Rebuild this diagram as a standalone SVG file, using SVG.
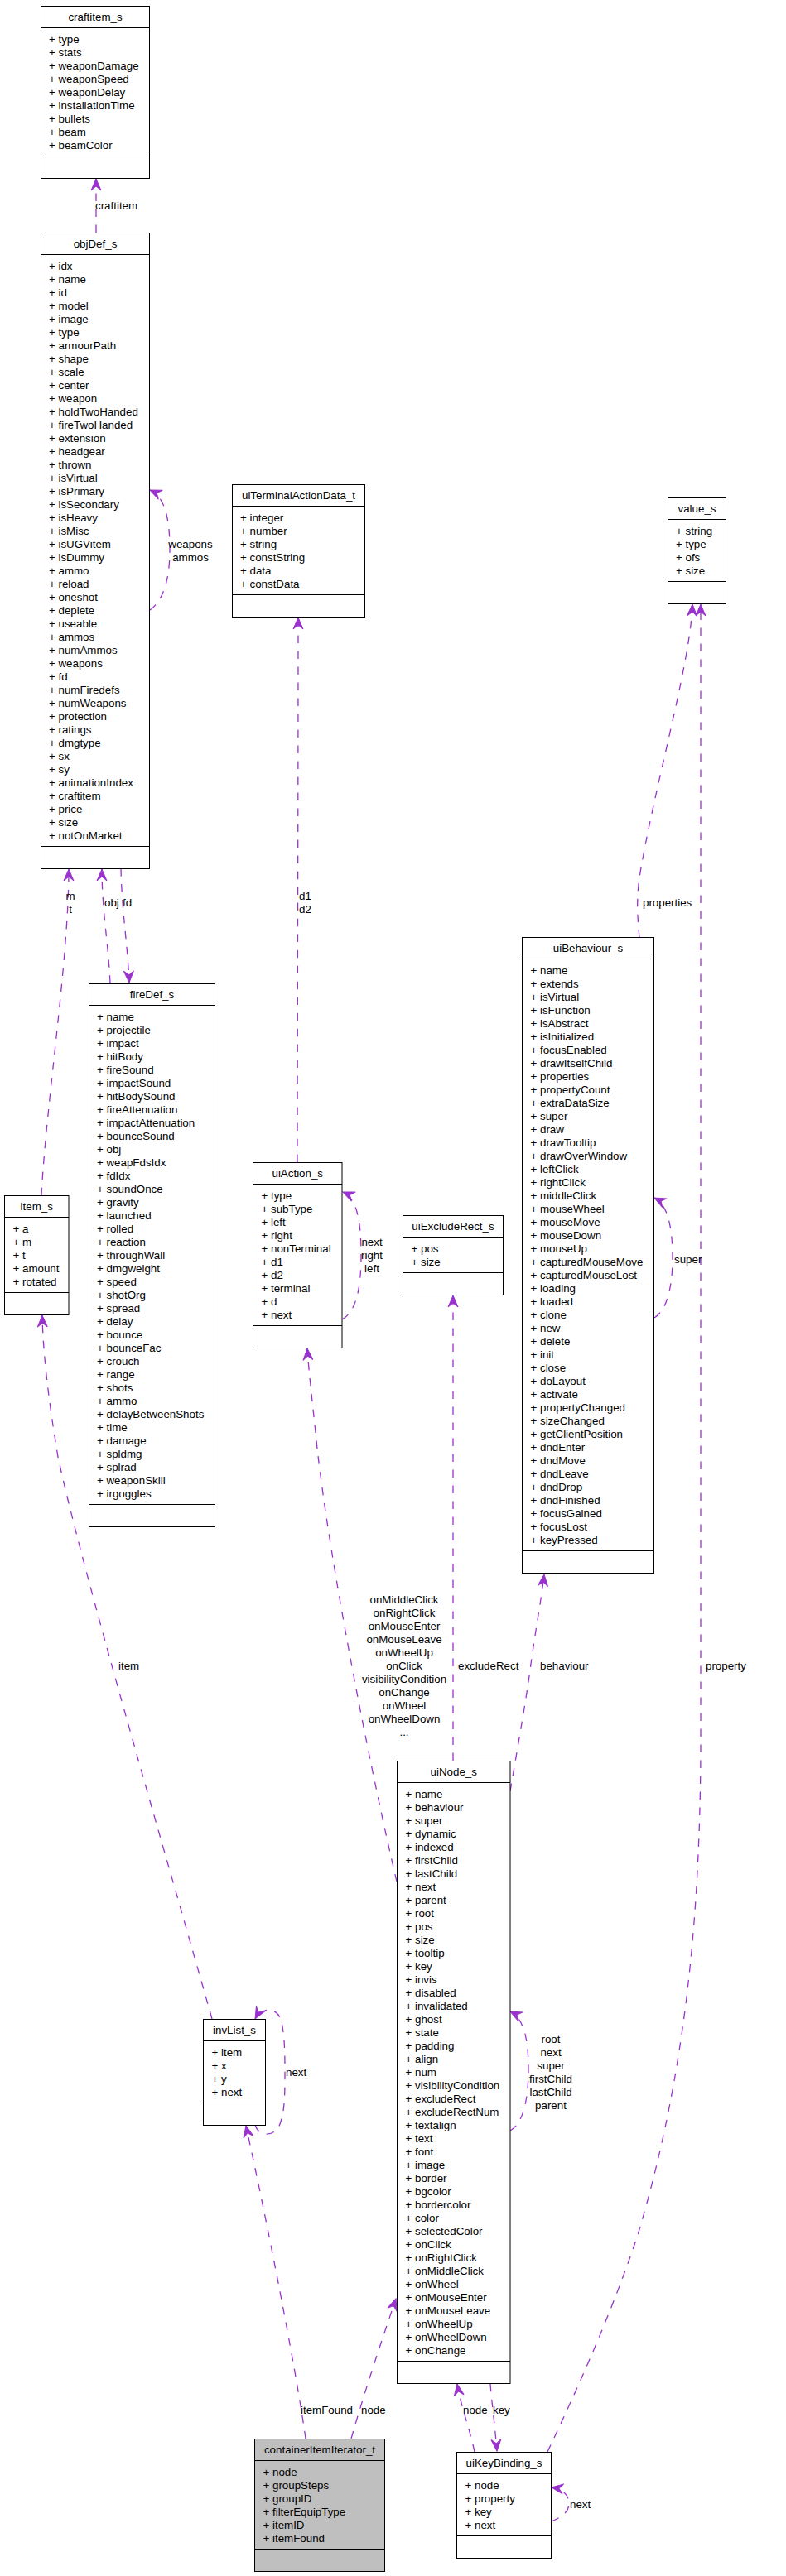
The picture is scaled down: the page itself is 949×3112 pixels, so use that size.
<svg xmlns="http://www.w3.org/2000/svg" width="949" height="3112" viewBox="0 0 949 3112">
<style>
.bx{fill:#ffffff;stroke:#000000;stroke-width:1}
.gr{fill:#bfbfbf;stroke:#000000;stroke-width:1}
.sp{stroke:#000000;stroke-width:1}
text{font-family:"Liberation Sans",Arial,sans-serif;font-size:13.33px;fill:#000000}
.t{text-anchor:middle}
.m{text-anchor:middle}
.e{fill:none;stroke:#9a32cd;stroke-width:1.3;stroke-dasharray:9.5,9.5;marker-end:url(#arr)}
.ah{fill:#9a32cd;stroke:#9a32cd;stroke-width:1;stroke-dasharray:none}
</style>
<defs>
<marker id="arr" markerUnits="userSpaceOnUse" markerWidth="16" markerHeight="14" viewBox="0 0 16 14" refX="15" refY="7" orient="auto"><path class="ah" d="M1,1 L15,7 L1,13 L6,7 Z"/></marker>
</defs>
<rect x="0" y="0" width="949" height="3112" fill="#ffffff"/>

<g id="edges">
<path class="e" d="M116,281 L116,216"/>
<path class="e" d="M181,737 C197,726 205,700 205,664 C205,626 199,600 181,592"/>
<path class="e" d="M50,1444 C56,1330 83,1160 83,1050"/>
<path class="e" d="M133,1188 C131,1140 123,1100 123,1050"/>
<path class="e" d="M146,1049 C147,1100 154,1140 156,1187"/>
<path class="e" d="M256,2439 C200,2240 100,1900 70,1760 C60,1700 52,1640 51,1589"/>
<path class="e" d="M359,1404 C359,1300 360,1000 360,746"/>
<path class="e" d="M413,1594 C429,1585 436,1560 436,1516 C436,1472 430,1447 414,1440"/>
<path class="e" d="M479,2273 C450,2150 400,1900 383,1750 C378,1700 373,1660 371,1629"/>
<path class="e" d="M547,2127 L547,1565"/>
<path class="e" d="M616,2164 C625,2110 636,2050 641,2010 C648,1960 654,1930 657,1902"/>
<path class="e" d="M772,1133 C770,1110 768,1090 772,1060 C790,950 834,800 836,730"/>
<path class="e" d="M661,2962 C700,2880 740,2790 770,2700 C830,2500 846,2300 846,2100 L846,730"/>
<path class="e" d="M790,1592 C805,1583 812,1555 812,1520 C812,1482 806,1455 790,1447"/>
<path class="e" d="M616,2574 C632,2565 638,2535 638,2500 C638,2462 632,2438 616,2430"/>
<path class="e" d="M308,2567 C312,2582 332,2582 338,2566 C344,2550 344,2530 344,2500 C344,2465 342,2442 336,2434 C328,2424 314,2428 308,2439"/>
<path class="e" d="M369,2946 C360,2880 330,2720 297,2568"/>
<path class="e" d="M424,2946 C440,2890 460,2830 478,2777"/>
<path class="e" d="M573,2962 C566,2930 556,2905 552,2880"/>
<path class="e" d="M592,2880 C594,2905 598,2935 600,2961"/>
<path class="e" d="M666,3046 C680,3040 687,3033 687,3025 C687,3015 681,3007 666,3005"/>
<text x="115" y="252.7">craftitem</text>
<text class="m" x="230" y="661.7">weapons</text>
<text class="m" x="230" y="677.7">ammos</text>
<text class="m" x="85" y="1086.7">m</text>
<text class="m" x="85" y="1102.7">t</text>
<text x="126" y="1094.7">obj</text>
<text x="148" y="1094.7">fd</text>
<text x="361" y="1086.7">d1</text>
<text x="361" y="1102.7">d2</text>
<text x="776" y="1094.7">properties</text>
<text class="m" x="449" y="1504.7">next</text>
<text class="m" x="449" y="1520.7">right</text>
<text class="m" x="449" y="1536.7">left</text>
<text x="814" y="1525.7">super</text>
<text class="m" x="488" y="1936.7">onMiddleClick</text>
<text class="m" x="488" y="1952.7">onRightClick</text>
<text class="m" x="488" y="1968.7">onMouseEnter</text>
<text class="m" x="488" y="1984.7">onMouseLeave</text>
<text class="m" x="488" y="2000.7">onWheelUp</text>
<text class="m" x="488" y="2016.7">onClick</text>
<text class="m" x="488" y="2032.7">visibilityCondition</text>
<text class="m" x="488" y="2048.7">onChange</text>
<text class="m" x="488" y="2064.7">onWheel</text>
<text class="m" x="488" y="2080.7">onWheelDown</text>
<text class="m" x="488" y="2096.7">...</text>
<text x="143" y="2016.7">item</text>
<text x="553" y="2016.7">excludeRect</text>
<text x="652" y="2016.7">behaviour</text>
<text x="852" y="2016.7">property</text>
<text class="m" x="665" y="2467.7">root</text>
<text class="m" x="665" y="2483.7">next</text>
<text class="m" x="665" y="2499.7">super</text>
<text class="m" x="665" y="2515.7">firstChild</text>
<text class="m" x="665" y="2531.7">lastChild</text>
<text class="m" x="665" y="2547.7">parent</text>
<text x="345" y="2507.7">next</text>
<text x="363" y="2916.4">itemFound</text>
<text x="436" y="2916.4">node</text>
<text x="559" y="2916.4">node</text>
<text x="595" y="2916.4">key</text>
<text x="688" y="3029.7">next</text>
</g>

<g id="craftitem_s">
<rect class="bx" x="49.5" y="7.5" width="131" height="208"/>
<line class="sp" x1="49.5" y1="33.5" x2="180.5" y2="33.5"/>
<line class="sp" x1="49.5" y1="188.5" x2="180.5" y2="188.5"/>
<text class="t" x="115" y="24.7">craftitem_s</text>
<text x="59"><tspan x="59" y="51.7">+ type</tspan><tspan x="59" dy="16">+ stats</tspan><tspan x="59" dy="16">+ weaponDamage</tspan><tspan x="59" dy="16">+ weaponSpeed</tspan><tspan x="59" dy="16">+ weaponDelay</tspan><tspan x="59" dy="16">+ installationTime</tspan><tspan x="59" dy="16">+ bullets</tspan><tspan x="59" dy="16">+ beam</tspan><tspan x="59" dy="16">+ beamColor</tspan></text>
</g>

<g id="objDef_s">
<rect class="bx" x="49.5" y="281.5" width="131" height="768"/>
<line class="sp" x1="49.5" y1="307.5" x2="180.5" y2="307.5"/>
<line class="sp" x1="49.5" y1="1022.5" x2="180.5" y2="1022.5"/>
<text class="t" x="115" y="298.7">objDef_s</text>
<text x="59"><tspan x="59" y="325.7">+ idx</tspan><tspan x="59" dy="16">+ name</tspan><tspan x="59" dy="16">+ id</tspan><tspan x="59" dy="16">+ model</tspan><tspan x="59" dy="16">+ image</tspan><tspan x="59" dy="16">+ type</tspan><tspan x="59" dy="16">+ armourPath</tspan><tspan x="59" dy="16">+ shape</tspan><tspan x="59" dy="16">+ scale</tspan><tspan x="59" dy="16">+ center</tspan><tspan x="59" dy="16">+ weapon</tspan><tspan x="59" dy="16">+ holdTwoHanded</tspan><tspan x="59" dy="16">+ fireTwoHanded</tspan><tspan x="59" dy="16">+ extension</tspan><tspan x="59" dy="16">+ headgear</tspan><tspan x="59" dy="16">+ thrown</tspan><tspan x="59" dy="16">+ isVirtual</tspan><tspan x="59" dy="16">+ isPrimary</tspan><tspan x="59" dy="16">+ isSecondary</tspan><tspan x="59" dy="16">+ isHeavy</tspan><tspan x="59" dy="16">+ isMisc</tspan><tspan x="59" dy="16">+ isUGVitem</tspan><tspan x="59" dy="16">+ isDummy</tspan><tspan x="59" dy="16">+ ammo</tspan><tspan x="59" dy="16">+ reload</tspan><tspan x="59" dy="16">+ oneshot</tspan><tspan x="59" dy="16">+ deplete</tspan><tspan x="59" dy="16">+ useable</tspan><tspan x="59" dy="16">+ ammos</tspan><tspan x="59" dy="16">+ numAmmos</tspan><tspan x="59" dy="16">+ weapons</tspan><tspan x="59" dy="16">+ fd</tspan><tspan x="59" dy="16">+ numFiredefs</tspan><tspan x="59" dy="16">+ numWeapons</tspan><tspan x="59" dy="16">+ protection</tspan><tspan x="59" dy="16">+ ratings</tspan><tspan x="59" dy="16">+ dmgtype</tspan><tspan x="59" dy="16">+ sx</tspan><tspan x="59" dy="16">+ sy</tspan><tspan x="59" dy="16">+ animationIndex</tspan><tspan x="59" dy="16">+ craftitem</tspan><tspan x="59" dy="16">+ price</tspan><tspan x="59" dy="16">+ size</tspan><tspan x="59" dy="16">+ notOnMarket</tspan></text>
</g>

<g id="uiTerminalActionData_t">
<rect class="bx" x="280.5" y="585.5" width="160" height="160"/>
<line class="sp" x1="280.5" y1="611.5" x2="440.5" y2="611.5"/>
<line class="sp" x1="280.5" y1="718.5" x2="440.5" y2="718.5"/>
<text class="t" x="360.5" y="602.7">uiTerminalActionData_t</text>
<text x="290"><tspan x="290" y="629.7">+ integer</tspan><tspan x="290" dy="16">+ number</tspan><tspan x="290" dy="16">+ string</tspan><tspan x="290" dy="16">+ constString</tspan><tspan x="290" dy="16">+ data</tspan><tspan x="290" dy="16">+ constData</tspan></text>
</g>

<g id="value_s">
<rect class="bx" x="806.5" y="601.5" width="70" height="128"/>
<line class="sp" x1="806.5" y1="627.5" x2="876.5" y2="627.5"/>
<line class="sp" x1="806.5" y1="702.5" x2="876.5" y2="702.5"/>
<text class="t" x="841.5" y="618.7">value_s</text>
<text x="816"><tspan x="816" y="645.7">+ string</tspan><tspan x="816" dy="16">+ type</tspan><tspan x="816" dy="16">+ ofs</tspan><tspan x="816" dy="16">+ size</tspan></text>
</g>

<g id="fireDef_s">
<rect class="bx" x="107.5" y="1188.5" width="152" height="656"/>
<line class="sp" x1="107.5" y1="1214.5" x2="259.5" y2="1214.5"/>
<line class="sp" x1="107.5" y1="1817.5" x2="259.5" y2="1817.5"/>
<text class="t" x="183.5" y="1205.7">fireDef_s</text>
<text x="117"><tspan x="117" y="1232.7">+ name</tspan><tspan x="117" dy="16">+ projectile</tspan><tspan x="117" dy="16">+ impact</tspan><tspan x="117" dy="16">+ hitBody</tspan><tspan x="117" dy="16">+ fireSound</tspan><tspan x="117" dy="16">+ impactSound</tspan><tspan x="117" dy="16">+ hitBodySound</tspan><tspan x="117" dy="16">+ fireAttenuation</tspan><tspan x="117" dy="16">+ impactAttenuation</tspan><tspan x="117" dy="16">+ bounceSound</tspan><tspan x="117" dy="16">+ obj</tspan><tspan x="117" dy="16">+ weapFdsIdx</tspan><tspan x="117" dy="16">+ fdIdx</tspan><tspan x="117" dy="16">+ soundOnce</tspan><tspan x="117" dy="16">+ gravity</tspan><tspan x="117" dy="16">+ launched</tspan><tspan x="117" dy="16">+ rolled</tspan><tspan x="117" dy="16">+ reaction</tspan><tspan x="117" dy="16">+ throughWall</tspan><tspan x="117" dy="16">+ dmgweight</tspan><tspan x="117" dy="16">+ speed</tspan><tspan x="117" dy="16">+ shotOrg</tspan><tspan x="117" dy="16">+ spread</tspan><tspan x="117" dy="16">+ delay</tspan><tspan x="117" dy="16">+ bounce</tspan><tspan x="117" dy="16">+ bounceFac</tspan><tspan x="117" dy="16">+ crouch</tspan><tspan x="117" dy="16">+ range</tspan><tspan x="117" dy="16">+ shots</tspan><tspan x="117" dy="16">+ ammo</tspan><tspan x="117" dy="16">+ delayBetweenShots</tspan><tspan x="117" dy="16">+ time</tspan><tspan x="117" dy="16">+ damage</tspan><tspan x="117" dy="16">+ spldmg</tspan><tspan x="117" dy="16">+ splrad</tspan><tspan x="117" dy="16">+ weaponSkill</tspan><tspan x="117" dy="16">+ irgoggles</tspan></text>
</g>

<g id="item_s">
<rect class="bx" x="5.5" y="1444.5" width="77.5" height="144"/>
<line class="sp" x1="5.5" y1="1470.5" x2="83" y2="1470.5"/>
<line class="sp" x1="5.5" y1="1561.5" x2="83" y2="1561.5"/>
<text class="t" x="44.25" y="1461.7">item_s</text>
<text x="15.5"><tspan x="15.5" y="1488.7">+ a</tspan><tspan x="15.5" dy="16">+ m</tspan><tspan x="15.5" dy="16">+ t</tspan><tspan x="15.5" dy="16">+ amount</tspan><tspan x="15.5" dy="16">+ rotated</tspan></text>
</g>

<g id="uiAction_s">
<rect class="bx" x="305.5" y="1404.5" width="107.5" height="224"/>
<line class="sp" x1="305.5" y1="1430.5" x2="413" y2="1430.5"/>
<line class="sp" x1="305.5" y1="1601.5" x2="413" y2="1601.5"/>
<text class="t" x="359.25" y="1421.7">uiAction_s</text>
<text x="315.5"><tspan x="315.5" y="1448.7">+ type</tspan><tspan x="315.5" dy="16">+ subType</tspan><tspan x="315.5" dy="16">+ left</tspan><tspan x="315.5" dy="16">+ right</tspan><tspan x="315.5" dy="16">+ nonTerminal</tspan><tspan x="315.5" dy="16">+ d1</tspan><tspan x="315.5" dy="16">+ d2</tspan><tspan x="315.5" dy="16">+ terminal</tspan><tspan x="315.5" dy="16">+ d</tspan><tspan x="315.5" dy="16">+ next</tspan></text>
</g>

<g id="uiExcludeRect_s">
<rect class="bx" x="486.5" y="1468.5" width="121" height="96"/>
<line class="sp" x1="486.5" y1="1494.5" x2="607.5" y2="1494.5"/>
<line class="sp" x1="486.5" y1="1537.5" x2="607.5" y2="1537.5"/>
<text class="t" x="547" y="1485.7">uiExcludeRect_s</text>
<text x="496.5"><tspan x="496.5" y="1512.7">+ pos</tspan><tspan x="496.5" dy="16">+ size</tspan></text>
</g>

<g id="uiBehaviour_s">
<rect class="bx" x="630.5" y="1132.5" width="159" height="768"/>
<line class="sp" x1="630.5" y1="1158.5" x2="789.5" y2="1158.5"/>
<line class="sp" x1="630.5" y1="1873.5" x2="789.5" y2="1873.5"/>
<text class="t" x="710" y="1150.2">uiBehaviour_s</text>
<text x="640.5"><tspan x="640.5" y="1177.2">+ name</tspan><tspan x="640.5" dy="16">+ extends</tspan><tspan x="640.5" dy="16">+ isVirtual</tspan><tspan x="640.5" dy="16">+ isFunction</tspan><tspan x="640.5" dy="16">+ isAbstract</tspan><tspan x="640.5" dy="16">+ isInitialized</tspan><tspan x="640.5" dy="16">+ focusEnabled</tspan><tspan x="640.5" dy="16">+ drawItselfChild</tspan><tspan x="640.5" dy="16">+ properties</tspan><tspan x="640.5" dy="16">+ propertyCount</tspan><tspan x="640.5" dy="16">+ extraDataSize</tspan><tspan x="640.5" dy="16">+ super</tspan><tspan x="640.5" dy="16">+ draw</tspan><tspan x="640.5" dy="16">+ drawTooltip</tspan><tspan x="640.5" dy="16">+ drawOverWindow</tspan><tspan x="640.5" dy="16">+ leftClick</tspan><tspan x="640.5" dy="16">+ rightClick</tspan><tspan x="640.5" dy="16">+ middleClick</tspan><tspan x="640.5" dy="16">+ mouseWheel</tspan><tspan x="640.5" dy="16">+ mouseMove</tspan><tspan x="640.5" dy="16">+ mouseDown</tspan><tspan x="640.5" dy="16">+ mouseUp</tspan><tspan x="640.5" dy="16">+ capturedMouseMove</tspan><tspan x="640.5" dy="16">+ capturedMouseLost</tspan><tspan x="640.5" dy="16">+ loading</tspan><tspan x="640.5" dy="16">+ loaded</tspan><tspan x="640.5" dy="16">+ clone</tspan><tspan x="640.5" dy="16">+ new</tspan><tspan x="640.5" dy="16">+ delete</tspan><tspan x="640.5" dy="16">+ init</tspan><tspan x="640.5" dy="16">+ close</tspan><tspan x="640.5" dy="16">+ doLayout</tspan><tspan x="640.5" dy="16">+ activate</tspan><tspan x="640.5" dy="16">+ propertyChanged</tspan><tspan x="640.5" dy="16">+ sizeChanged</tspan><tspan x="640.5" dy="16">+ getClientPosition</tspan><tspan x="640.5" dy="16">+ dndEnter</tspan><tspan x="640.5" dy="16">+ dndMove</tspan><tspan x="640.5" dy="16">+ dndLeave</tspan><tspan x="640.5" dy="16">+ dndDrop</tspan><tspan x="640.5" dy="16">+ dndFinished</tspan><tspan x="640.5" dy="16">+ focusGained</tspan><tspan x="640.5" dy="16">+ focusLost</tspan><tspan x="640.5" dy="16">+ keyPressed</tspan></text>
</g>

<g id="uiNode_s">
<rect class="bx" x="479.5" y="2127.5" width="136.5" height="752"/>
<line class="sp" x1="479.5" y1="2153.5" x2="616" y2="2153.5"/>
<line class="sp" x1="479.5" y1="2852.5" x2="616" y2="2852.5"/>
<text class="t" x="547.75" y="2144.7">uiNode_s</text>
<text x="489.5"><tspan x="489.5" y="2171.7">+ name</tspan><tspan x="489.5" dy="16">+ behaviour</tspan><tspan x="489.5" dy="16">+ super</tspan><tspan x="489.5" dy="16">+ dynamic</tspan><tspan x="489.5" dy="16">+ indexed</tspan><tspan x="489.5" dy="16">+ firstChild</tspan><tspan x="489.5" dy="16">+ lastChild</tspan><tspan x="489.5" dy="16">+ next</tspan><tspan x="489.5" dy="16">+ parent</tspan><tspan x="489.5" dy="16">+ root</tspan><tspan x="489.5" dy="16">+ pos</tspan><tspan x="489.5" dy="16">+ size</tspan><tspan x="489.5" dy="16">+ tooltip</tspan><tspan x="489.5" dy="16">+ key</tspan><tspan x="489.5" dy="16">+ invis</tspan><tspan x="489.5" dy="16">+ disabled</tspan><tspan x="489.5" dy="16">+ invalidated</tspan><tspan x="489.5" dy="16">+ ghost</tspan><tspan x="489.5" dy="16">+ state</tspan><tspan x="489.5" dy="16">+ padding</tspan><tspan x="489.5" dy="16">+ align</tspan><tspan x="489.5" dy="16">+ num</tspan><tspan x="489.5" dy="16">+ visibilityCondition</tspan><tspan x="489.5" dy="16">+ excludeRect</tspan><tspan x="489.5" dy="16">+ excludeRectNum</tspan><tspan x="489.5" dy="16">+ textalign</tspan><tspan x="489.5" dy="16">+ text</tspan><tspan x="489.5" dy="16">+ font</tspan><tspan x="489.5" dy="16">+ image</tspan><tspan x="489.5" dy="16">+ border</tspan><tspan x="489.5" dy="16">+ bgcolor</tspan><tspan x="489.5" dy="16">+ bordercolor</tspan><tspan x="489.5" dy="16">+ color</tspan><tspan x="489.5" dy="16">+ selectedColor</tspan><tspan x="489.5" dy="16">+ onClick</tspan><tspan x="489.5" dy="16">+ onRightClick</tspan><tspan x="489.5" dy="16">+ onMiddleClick</tspan><tspan x="489.5" dy="16">+ onWheel</tspan><tspan x="489.5" dy="16">+ onMouseEnter</tspan><tspan x="489.5" dy="16">+ onMouseLeave</tspan><tspan x="489.5" dy="16">+ onWheelUp</tspan><tspan x="489.5" dy="16">+ onWheelDown</tspan><tspan x="489.5" dy="16">+ onChange</tspan></text>
</g>

<g id="invList_s">
<rect class="bx" x="245.5" y="2439.5" width="75" height="128"/>
<line class="sp" x1="245.5" y1="2465.5" x2="320.5" y2="2465.5"/>
<line class="sp" x1="245.5" y1="2540.5" x2="320.5" y2="2540.5"/>
<text class="t" x="283" y="2456.7">invList_s</text>
<text x="255.5"><tspan x="255.5" y="2483.7">+ item</tspan><tspan x="255.5" dy="16">+ x</tspan><tspan x="255.5" dy="16">+ y</tspan><tspan x="255.5" dy="16">+ next</tspan></text>
</g>

<g id="containerItemIterator_t">
<rect class="gr" x="307.5" y="2946.5" width="157" height="160"/>
<line class="sp" x1="307.5" y1="2972.5" x2="464.5" y2="2972.5"/>
<line class="sp" x1="307.5" y1="3079.5" x2="464.5" y2="3079.5"/>
<text class="t" x="386" y="2963.7">containerItemIterator_t</text>
<text x="317.5"><tspan x="317.5" y="2990.7">+ node</tspan><tspan x="317.5" dy="16">+ groupSteps</tspan><tspan x="317.5" dy="16">+ groupID</tspan><tspan x="317.5" dy="16">+ filterEquipType</tspan><tspan x="317.5" dy="16">+ itemID</tspan><tspan x="317.5" dy="16">+ itemFound</tspan></text>
</g>

<g id="uiKeyBinding_s">
<rect class="bx" x="551.5" y="2962.5" width="114" height="128"/>
<line class="sp" x1="551.5" y1="2988.5" x2="665.5" y2="2988.5"/>
<line class="sp" x1="551.5" y1="3063.5" x2="665.5" y2="3063.5"/>
<text class="t" x="608.5" y="2979.7">uiKeyBinding_s</text>
<text x="561.5"><tspan x="561.5" y="3006.7">+ node</tspan><tspan x="561.5" dy="16">+ property</tspan><tspan x="561.5" dy="16">+ key</tspan><tspan x="561.5" dy="16">+ next</tspan></text>
</g>
</svg>
